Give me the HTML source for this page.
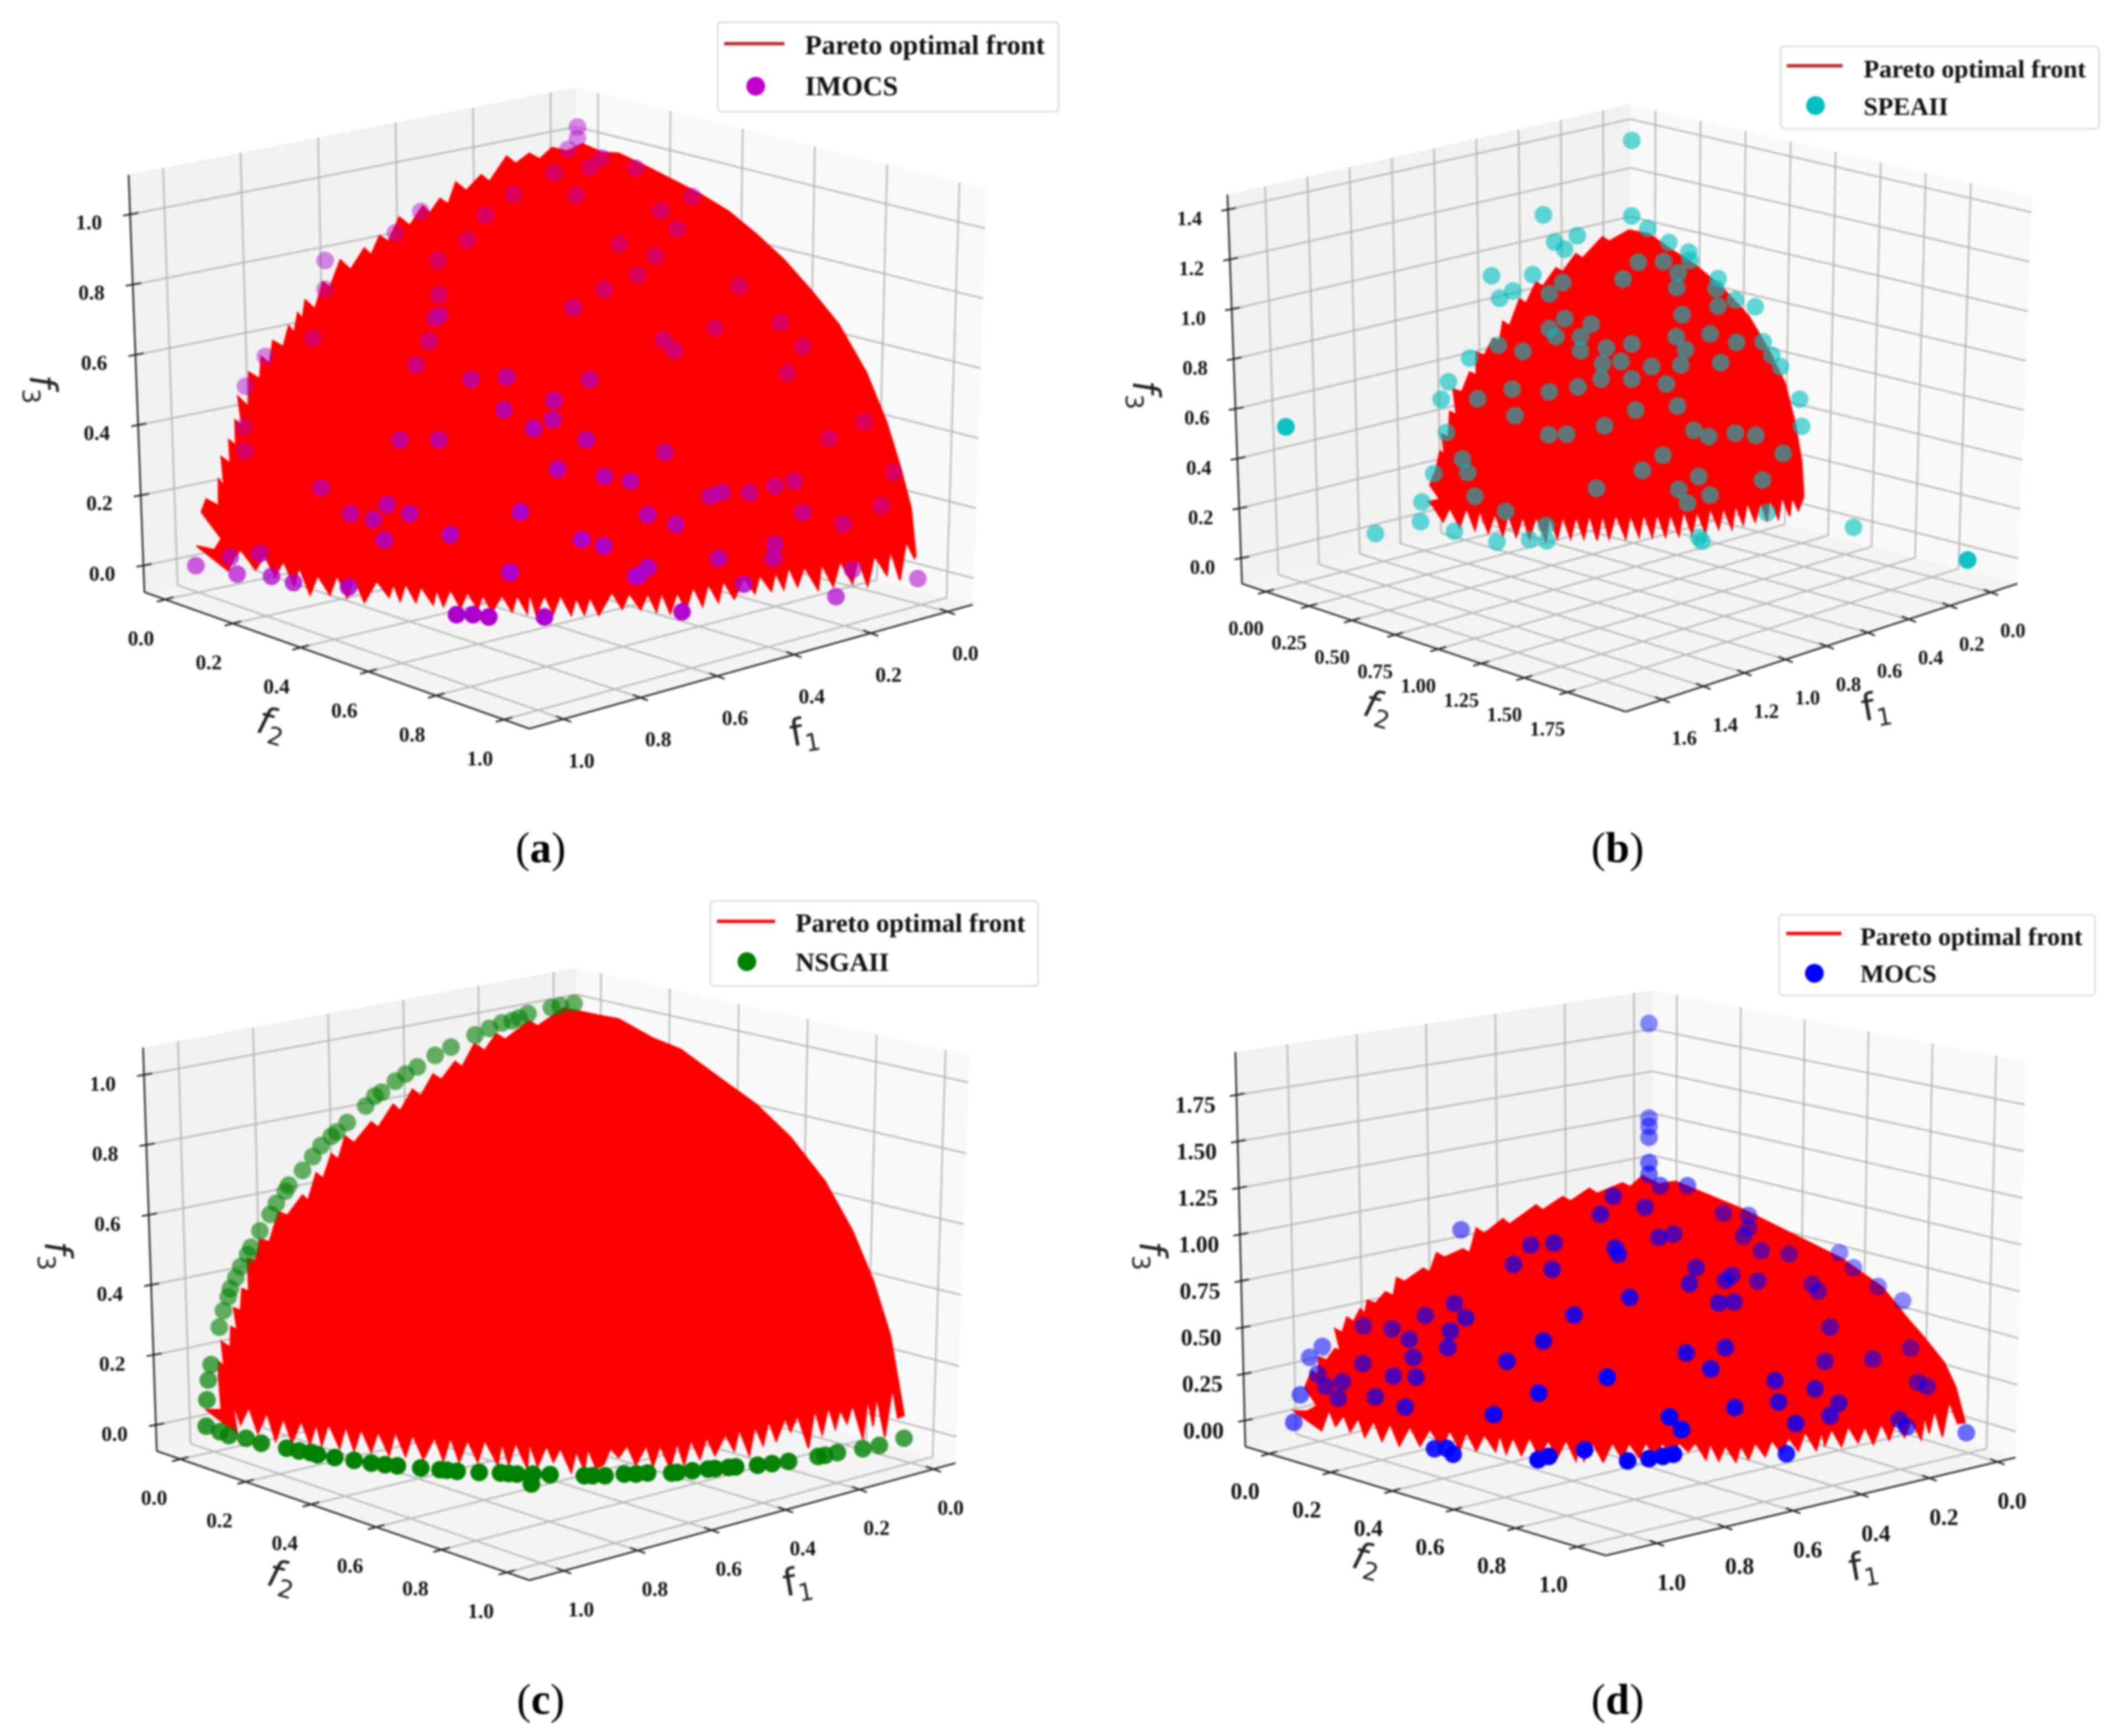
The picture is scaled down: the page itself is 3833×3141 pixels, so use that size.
<!DOCTYPE html>
<html lang="en">
<head>
<meta charset="utf-8">
<title>Pareto optimal front comparison</title>
<style>
html,body{margin:0;padding:0;background:#fff;}
svg{display:block;filter:blur(1.8px);}
.leg{font-family:"Liberation Serif",serif;font-weight:bold;fill:#111;}
.cap{font-family:"Liberation Serif",serif;font-size:78px;fill:#000;}
</style>
</head>
<body>
<svg id="figure" xmlns="http://www.w3.org/2000/svg" width="3833" height="3141" viewBox="0 0 3833 3141">
<rect width="3833" height="3141" fill="#fff"/>
<g id="plots"></g>

<g>
<rect x="1298" y="40" width="617" height="162" rx="8" fill="#fff" fill-opacity=".85" stroke="#dcdcdc" stroke-width="3"/>
<line x1="1310" x2="1419" y1="79" y2="79" stroke="#c02428" stroke-width="6"/>
<text class="leg" x="1456" y="98" font-size="49.7">Pareto optimal front</text>
<circle cx="1367" cy="156" r="17" fill="#bf00c8"/>
<text class="leg" x="1456" y="172" font-size="49.7">IMOCS</text>
</g>
<g>
<rect x="3221" y="84" width="576" height="149" rx="8" fill="#fff" fill-opacity=".85" stroke="#dcdcdc" stroke-width="3"/>
<line x1="3232" x2="3333" y1="119" y2="119" stroke="#c02428" stroke-width="6"/>
<text class="leg" x="3371" y="140" font-size="46">Pareto optimal front</text>
<circle cx="3284" cy="191" r="17" fill="#00bfbf"/>
<text class="leg" x="3371" y="208" font-size="46">SPEAII</text>
</g>
<g>
<rect x="1285" y="1630" width="593" height="154" rx="8" fill="#fff" fill-opacity=".85" stroke="#dcdcdc" stroke-width="3"/>
<line x1="1297" x2="1402" y1="1667" y2="1667" stroke="#ff0000" stroke-width="6"/>
<text class="leg" x="1439" y="1686" font-size="47.6">Pareto optimal front</text>
<circle cx="1351" cy="1740" r="17" fill="#008000"/>
<text class="leg" x="1439" y="1757" font-size="47.6">NSGAII</text>
</g>
<g>
<rect x="3218" y="1655" width="572" height="146" rx="8" fill="#fff" fill-opacity=".85" stroke="#dcdcdc" stroke-width="3"/>
<line x1="3231" x2="3331" y1="1689" y2="1689" stroke="#ff0000" stroke-width="6"/>
<text class="leg" x="3365" y="1710" font-size="46">Pareto optimal front</text>
<circle cx="3282" cy="1761" r="17" fill="#0000ff"/>
<text class="leg" x="3365" y="1777" font-size="46">MOCS</text>
</g>

<text class="cap" x="978" y="1560" text-anchor="middle">(<tspan font-weight="bold">a</tspan>)</text>
<text class="cap" x="2926" y="1560" text-anchor="middle">(<tspan font-weight="bold">b</tspan>)</text>
<text class="cap" x="978" y="3101" text-anchor="middle">(<tspan font-weight="bold">c</tspan>)</text>
<text class="cap" x="2926" y="3101" text-anchor="middle">(<tspan font-weight="bold">d</tspan>)</text>
</svg>

<script>
const ticksUnit = ['0.0','0.2','0.4','0.6','0.8','1.0'];
const ticksBF1 = ['0.0','0.2','0.4','0.6','0.8','1.0','1.2','1.4','1.6'];
const ticksBF2 = ['0.00','0.25','0.50','0.75','1.00','1.25','1.50','1.75'];
const ticksBF3 = ['0.0','0.2','0.4','0.6','0.8','1.0','1.2','1.4'];
const ticksDF3 = ['0.00','0.25','0.50','0.75','1.00','1.25','1.50','1.75'];

// Scatter series as [view-horizontal, view-height] readings
const imocsView = [[840,225],[840,245],[826,265],[875,280],[925,298],[1007,348],[806,307],[858,297],[838,346],[747,345],[612,375],[706,382],[575,413],[680,425],[473,462],[637,462],[473,513],[638,522],[640,558],[632,565],[624,605],[605,647],[455,600],[386,632],[357,685],[355,757],[356,800],[685,673],[737,669],[858,673],[806,710],[804,744],[776,760],[733,727],[582,780],[638,780],[853,780],[967,802],[811,832],[879,845],[917,853],[467,865],[563,895],[543,921],[510,911],[596,911],[559,958],[655,948],[757,908],[846,957],[878,968],[942,913],[983,930],[1033,880],[1050,873],[1090,874],[1127,862],[1155,853],[1168,909],[1226,929],[1282,897],[1300,838],[1257,748],[1206,777],[1145,661],[1168,614],[1135,572],[1075,507],[1040,582],[965,603],[981,622],[879,513],[928,488],[953,454],[901,433],[961,374],[985,406],[834,546],[378,982],[335,988],[285,1003],[345,1018],[395,1022],[427,1033],[507,1041],[742,1015],[930,1020],[942,1006],[925,1022],[1045,990],[1127,965],[1125,990],[1240,1010],[1082,1036],[1216,1058],[1335,1026],[664,1090],[688,1090],[711,1094],[792,1094],[992,1085]];
const speaView = [[834,249],[834,383],[858,405],[890,430],[920,447],[922,462],[701,381],[718,429],[733,442],[752,418],[685,487],[623,489],[635,529],[655,516],[710,521],[730,501],[821,495],[844,465],[882,464],[904,484],[902,510],[964,494],[961,512],[964,543],[990,532],[1020,544],[910,558],[733,565],[710,583],[720,597],[773,575],[757,597],[757,622],[670,623],[633,612],[590,635],[796,617],[834,610],[901,597],[952,592],[992,607],[915,620],[1032,606],[1045,630],[1058,650],[818,641],[790,645],[788,672],[864,650],[908,647],[968,643],[834,672],[886,681],[558,677],[547,708],[602,707],[654,690],[710,695],[753,686],[1087,708],[1090,756],[658,737],[840,727],[903,720],[555,767],[709,771],[736,770],[793,755],[928,763],[950,774],[990,768],[1021,772],[1062,804],[579,814],[587,838],[536,840],[850,834],[881,807],[935,845],[1031,851],[598,880],[781,866],[905,868],[918,892],[952,878],[518,890],[516,925],[644,907],[705,932],[1038,909],[1168,935],[448,946],[567,942],[631,961],[680,957],[706,959],[935,953],[940,960],[1340,993],[1340,993],[1340,993],[313,757],[313,757],[313,757]];
const nsgaView = [[835,237],[815,241],[802,244],[768,255],[755,263],[745,268],[730,272],[712,282],[691,294],[656,316],[633,331],[607,352],[590,365],[575,378],[555,398],[545,405],[532,423],[505,453],[490,470],[482,478],[467,495],[455,515],[440,540],[420,567],[415,578],[402,600],[393,620],[378,650],[365,680],[360,693],[350,715],[343,735],[335,755],[332,770],[325,795],[319,825],[307,893],[303,921],[301,957],[300,1005],[320,1015],[333,1022],[358,1027],[380,1036],[417,1045],[435,1050],[452,1053],[462,1057],[487,1062],[515,1067],[540,1072],[560,1075],[578,1077],[612,1081],[640,1084],[650,1085],[665,1087],[697,1089],[728,1090],[740,1091],[752,1092],[775,1092],[773,1110],[800,1093],[850,1095],[862,1095],[880,1095],[908,1092],[925,1092],[942,1090],[977,1090],[985,1089],[1007,1086],[1030,1083],[1040,1082],[1060,1080],[1070,1079],[1102,1076],[1123,1073],[1147,1069],[1190,1060],[1200,1058],[1218,1053],[1255,1046],[1279,1040],[1315,1027]];
const mocsView = [[860,273],[860,445],[860,460],[860,480],[860,526],[860,547],[877,568],[918,568],[577,648],[806,587],[787,620],[854,607],[972,618],[1010,622],[1010,645],[1002,660],[875,662],[897,656],[682,676],[717,672],[809,681],[814,693],[656,711],[714,720],[931,717],[1029,686],[1071,692],[1147,690],[1168,717],[1205,751],[1242,777],[1106,747],[1115,760],[985,731],[975,740],[921,746],[1024,741],[831,771],[965,781],[988,779],[747,803],[567,782],[584,808],[523,804],[430,823],[473,828],[499,847],[561,832],[557,862],[701,850],[1133,825],[1254,863],[975,862],[916,872],[646,887],[505,880],[429,891],[368,860],[349,880],[361,910],[398,924],[373,932],[335,948],[392,954],[448,952],[475,914],[509,916],[953,901],[797,916],[1125,887],[1197,883],[1050,922],[1110,937],[1265,925],[1279,933],[694,945],[493,970],[325,998],[626,984],[891,988],[989,971],[1055,961],[1146,963],[1133,986],[1081,1000],[909,1011],[1237,993],[1248,1006],[1338,1017],[537,1046],[555,1045],[565,1056],[693,1066],[709,1060],[763,1048],[828,1068],[860,1064],[881,1060],[897,1056],[1067,1055]];

// Pareto front silhouettes, same view readings
const frontA = [[293,908],[300,885],[318,897],[318,850],[326,862],[322,810],[335,822],[333,780],[343,790],[342,745],[352,755],[346,703],[362,722],[362,660],[378,672],[380,632],[392,645],[397,604],[412,615],[420,578],[428,590],[433,555],[440,565],[444,532],[458,548],[470,500],[480,510],[495,461],[510,478],[530,440],[540,452],[552,418],[565,428],[581,385],[596,400],[615,365],[625,378],[640,352],[652,362],[663,323],[678,338],[700,310],[712,322],[737,277],[750,290],[770,272],[785,282],[803,262],[825,268],[847,255],[875,270],[900,272],[940,295],[980,320],[1020,345],[1060,375],[1100,415],[1140,460],[1180,515],[1220,575],[1260,660],[1290,750],[1310,830],[1325,900],[1332,985],
 [1330,990],[1318,960],[1309,1029],[1295,975],[1290,1020],[1272,985],[1262,1039],[1248,990],[1240,1035],[1222,995],[1212,1040],[1195,1000],[1190,1046],[1170,1005],[1160,1040],[1147,1005],[1140,1045],[1128,1015],[1122,1048],[1105,1020],[1098,1052],[1082,1025],[1068,1062],[1052,1030],[1045,1068],[1030,1035],[1022,1075],[1008,1040],[998,1082],[985,1050],[975,1088],[962,1050],[955,1085],[942,1052],[932,1081],[915,1052],[905,1080],[890,1050],[871,1091],[858,1058],[850,1090],[838,1060],[831,1091],[815,1055],[805,1088],[792,1055],[780,1090],[770,1050],[767,1088],[752,1055],[745,1085],[730,1055],[716,1085],[702,1055],[695,1080],[680,1050],[670,1078],[655,1045],[645,1075],[635,1045],[630,1072],[612,1040],[605,1068],[590,1035],[582,1066],[572,1035],[566,1059],[548,1030],[530,1068],[515,1025],[505,1060],[490,1020],[480,1055],[462,1020],[451,1055],[435,1005],[428,1038],[412,995],[400,1023],[385,985],[372,1010],[350,975],[340,990],[332,1012],[286,968],[312,975],[322,955]];
const frontB = [[530,860],[540,830],[545,800],[552,805],[548,770],[558,775],[560,730],[570,735],[565,690],[578,695],[590,660],[600,665],[600,625],[612,630],[625,600],[635,605],[640,570],[650,578],[665,530],[675,538],[690,500],[700,508],[720,475],[730,482],[750,450],[760,458],[790,420],[800,428],[830,408],[860,415],[890,440],[930,470],[970,510],[1010,560],[1040,620],[1065,680],[1080,750],[1090,820],[1093,880],
 [1085,905],[1075,880],[1072,915],[1060,880],[1055,920],[1042,885],[1038,925],[1028,890],[1020,925],[1008,890],[1002,930],[990,895],[985,938],[972,900],[965,938],[952,900],[945,945],[932,905],[925,948],[912,905],[905,950],[892,910],[885,952],[872,910],[865,952],[852,910],[845,952],[832,912],[825,955],[810,912],[800,955],[790,912],[782,958],[770,912],[762,955],[750,915],[742,955],[730,915],[722,955],[710,915],[705,960],[690,915],[680,955],[670,915],[660,952],[648,912],[640,950],[628,910],[618,945],[605,905],[598,940],[585,900],[575,935],[560,900],[550,925],[535,898],[528,890],[545,885]];
const frontC = [[318,914],[318,888],[326,895],[322,851],[335,862],[336,824],[345,830],[340,790],[350,795],[352,755],[362,760],[360,700],[372,705],[378,665],[392,670],[405,615],[418,622],[440,585],[448,595],[460,545],[470,555],[482,510],[492,520],[502,478],[515,490],[540,452],[550,462],[572,420],[582,432],[600,393],[612,405],[630,365],[642,375],[662,342],[672,352],[690,310],[705,322],[722,292],[735,302],[770,268],[782,278],[820,245],[870,258],[900,265],[950,300],[990,320],[1050,375],[1100,420],[1150,480],[1200,560],[1240,650],[1270,740],[1295,840],[1315,985],
 [1306,990],[1298,935],[1287,1025],[1275,950],[1270,1005],[1262,955],[1255,1028],[1240,965],[1232,1000],[1222,975],[1215,1010],[1205,970],[1196,1020],[1185,975],[1176,1045],[1160,985],[1150,1015],[1142,990],[1129,1032],[1118,995],[1110,1040],[1098,1005],[1090,1058],[1075,1010],[1068,1050],[1055,1020],[1040,1058],[1028,1025],[1018,1065],[1005,1030],[995,1075],[985,1035],[975,1082],[960,1040],[950,1078],[940,1040],[925,1075],[912,1040],[900,1062],[888,1045],[878,1075],[867,1082],[855,1045],[850,1085],[838,1050],[831,1089],[815,1045],[805,1070],[795,1040],[782,1078],[770,1035],[767,1082],[750,1035],[740,1075],[730,1035],[724,1075],[705,1030],[695,1070],[680,1030],[668,1070],[655,1025],[645,1068],[632,1025],[616,1065],[600,1020],[590,1060],[575,1015],[566,1058],[550,1015],[540,1052],[525,1010],[515,1050],[503,1005],[494,1045],[478,1000],[468,1040],[460,1000],[451,1038],[438,995],[425,1035],[412,990],[401,1032],[388,980],[375,1018],[362,970],[350,1002],[338,960],[345,1018],[300,975],[322,975]];
const frontD = [[342,934],[352,905],[362,912],[363,880],[375,885],[387,864],[395,868],[387,828],[398,835],[405,807],[415,815],[425,792],[432,800],[436,776],[448,782],[463,761],[475,768],[480,735],[492,742],[520,718],[530,725],[540,690],[552,698],[580,683],[590,690],[600,645],[612,655],[640,628],[650,638],[690,603],[700,612],[730,588],[742,596],[770,573],[782,582],[820,563],[832,570],[850,550],[875,565],[900,560],[950,585],[1000,610],[1050,640],[1100,670],[1150,700],[1212,753],[1250,810],[1274,843],[1305,890],[1322,934],[1336,998],
 [1325,1000],[1312,960],[1302,1024],[1290,975],[1282,1018],[1275,985],[1270,1029],[1255,995],[1245,1025],[1232,995],[1222,1030],[1210,1000],[1198,1038],[1185,1005],[1175,1035],[1160,1005],[1150,1042],[1135,1010],[1125,1040],[1120,1015],[1112,1049],[1095,1015],[1085,1050],[1070,1025],[1060,1055],[1045,1030],[1035,1060],[1020,1035],[1010,1065],[998,1040],[991,1070],[975,1040],[965,1068],[952,1035],[946,1066],[930,1035],[919,1051],[905,1035],[895,1060],[880,1035],[870,1062],[855,1035],[845,1062],[830,1035],[820,1065],[805,1035],[791,1070],[775,1035],[762,1068],[755,1035],[750,1068],[735,1030],[722,1062],[708,1030],[695,1062],[680,1025],[668,1058],[655,1025],[645,1055],[635,1020],[629,1051],[612,1020],[600,1050],[585,1015],[575,1048],[560,1012],[548,1045],[530,1010],[515,1041],[500,1005],[484,1041],[470,1000],[458,1032],[445,995],[432,1025],[422,990],[410,1015],[400,985],[388,1005],[378,975],[367,1013],[325,977],[345,978],[360,968]];

const panels = [
 {id:'a',ox:0,oy:0,kx:1.2436,ky:1.0204,A:[210,1050],B:[770,1292],C:[1415,1072],D:[838,890],At:[187,310],Dt:[838,155],Ct:[1435,335],
  r1:[-.066,1.089],r2:[-.061,1.075],r3:[-.0755,1.113],t1:ticksUnit,t2:ticksUnit,t3:ticksUnit,
  o1:[26,74],o2:[-35,69],o3:[-60,14],font:38,points:imocsView,front:frontA,color:'#ad00cc',a0:.1,a1:.001,aMin:.45,
  l1:[1170,1300,-10],l2:[395,1285,15],l3:[60,690,88]},
 {id:'b',ox:1950,oy:0,kx:1.2009,ky:1.0204,A:[247,1035],B:[825,1262],C:[1415,1035],D:[832,860],At:[225,345],Dt:[832,185],Ct:[1437,350],
  r1:[-.129,1.778],r2:[-.139,2.089],r3:[-.1019,1.4606],t1:ticksBF1,t2:ticksBF2,t3:ticksBF3,
  o1:[33,68],o2:[-30,65],o3:[-58,16],font:36.5,points:speaView,front:frontB,color:'#00bfbf',a0:.62,a1:0,aMin:.6,
  l1:[1202,1255,-10],l2:[452,1255,15],l3:[100,700,88]},
 {id:'c',ox:0,oy:1580,kx:1.2436,ky:.9955,A:[228,1050],B:[770,1285],C:[1390,1072],D:[838,885],At:[208,317],Dt:[838,172],Ct:[1410,330],
  r1:[-.06,1.093],r2:[-.072,1.069],r3:[-.074,1.078],t1:ticksUnit,t2:ticksUnit,t3:ticksUnit,
  o1:[25,70],o2:[-38,70],o3:[-60,16],font:38,points:nsgaView,front:frontC,color:'#008000',a0:.25,a1:.001,aMin:.6,
  l1:[1160,1290,-10],l2:[410,1280,15],l3:[82,695,88]},
 {id:'d',ox:1950,oy:1580,kx:1.2009,ky:.9955,A:[252,1042],B:[795,1240],C:[1412,1062],D:[865,860],At:[237,325],Dt:[865,213],Ct:[1428,342],
  r1:[-.0527,1.15],r2:[-.077,1.093],r3:[-.139,1.981],t1:ticksUnit,t2:ticksUnit,t3:ticksDF3,
  o1:[22,71],o2:[-36,68],o3:[-62,18],font:42,points:mocsView,front:frontD,color:'#0000ff',a0:.1,a1:.001,aMin:.45,
  l1:[1183,1262,-10],l2:[435,1248,15],l3:[110,695,88]}
];

const NS = 'http://www.w3.org/2000/svg';
function mk(tag, attrs, parent){
  const e = document.createElementNS(NS, tag);
  for (const k in attrs) e.setAttribute(k, attrs[k]);
  parent.appendChild(e);
  return e;
}
function lerp(p, q, t){ return [p[0]+(q[0]-p[0])*t, p[1]+(q[1]-p[1])*t]; }
function axisScale(range){ return function(v){ return (v-range[0])/(range[1]-range[0]); }; }

const root = document.getElementById('plots');

panels.forEach(function(p){
  const sx = function(h){ return p.ox + p.kx*h; };
  const sy = function(v){ return p.oy + p.ky*v; };
  const S = function(pt){ return [sx(pt[0]), sy(pt[1])]; };
  const s1 = axisScale(p.r1), s2 = axisScale(p.r2), s3 = axisScale(p.r3);
  const floor = function(u,w){ return lerp(lerp(p.D,p.A,u), lerp(p.C,p.B,u), w); };
  const leftWall = function(u,z){ return lerp(floor(u,0), lerp(p.Dt,p.At,u), z); };
  const rightWall = function(w,z){ return lerp(floor(0,w), lerp(p.Dt,p.Ct,w), z); };

  const g = mk('g', {}, root);
  
  

  const poly = function(pts){ return pts.map(function(q){ const s = S(q); return s[0].toFixed(1)+','+s[1].toFixed(1); }).join(' '); };

  const paneLeft = mk('polygon', {points:poly([p.A,p.At,p.Dt,p.D]), fill:'#f1f1f1'}, g);
  
  
  const paneRight = mk('polygon', {points:poly([p.D,p.Dt,p.Ct,p.C]), fill:'#f9f9f9'}, g);
  
  
  const paneFloor = mk('polygon', {points:poly([p.A,p.D,p.C,p.B]), fill:'#f4f4f4'}, g);
  
  

  const seg = function(a,b,color,w,parent){
    const s = S(a), t = S(b);
    return mk('line', {x1:s[0].toFixed(1),y1:s[1].toFixed(1),x2:t[0].toFixed(1),y2:t[1].toFixed(1),stroke:color,'stroke-width':w}, parent);
  };

  const grid = mk('g', {}, g);
  
  
  p.t1.forEach(function(lbl){
    const u = s1(Number(lbl));
    const a = seg(floor(u,0), lerp(p.Dt,p.At,u), '#b8b8b8', 3, grid);
    
    
    const b = seg(floor(u,0), floor(u,1), '#b8b8b8', 3, grid);
    
    
  });
  p.t2.forEach(function(lbl){
    const w = s2(Number(lbl));
    const a = seg(floor(0,w), lerp(p.Dt,p.Ct,w), '#b8b8b8', 3, grid);
    
    
    const b = seg(floor(0,w), floor(1,w), '#b8b8b8', 3, grid);
    
    
  });
  p.t3.forEach(function(lbl){
    const z = s3(Number(lbl));
    const a = seg(leftWall(1,z), leftWall(0,z), '#b8b8b8', 3, grid);
    
    
    const b = seg(rightWall(0,z), rightWall(1,z), '#b8b8b8', 3, grid);
    
    
  });

  const axF1 = seg(p.C, p.B, '#222', 3, g);
  
  
  const axF2 = seg(p.A, p.B, '#222', 3, g);
  
  
  const axF3 = seg(p.A, p.At, '#222', 3, g);
  
  

  const tickText = function(str, at, off){
    const s = S([at[0]+off[0], at[1]+off[1]]);
    const t = mk('text', {x:s[0].toFixed(1), y:(s[1]+p.font*.33).toFixed(1), 'text-anchor':'middle', 'font-size':p.font, 'font-weight':'bold', 'font-family':'"Liberation Serif",serif', fill:'#111'}, g);
    t.textContent = str;
    return t;
  };

  p.t1.forEach(function(lbl){
    const at = floor(s1(Number(lbl)),1);
    const m = seg([at[0]-11,at[1]-5],[at[0]+11,at[1]+5],'#222',3,g);
    
    
    const t = tickText(lbl, at, p.o1);
    
    
  });
  p.t2.forEach(function(lbl){
    const at = floor(1,s2(Number(lbl)));
    const m = seg([at[0]-12,at[1]+4],[at[0]+12,at[1]-4],'#222',3,g);
    
    
    const t = tickText(lbl, at, p.o2);
    
    
  });
  p.t3.forEach(function(lbl){
    const base = lerp(p.A,p.At,s3(Number(lbl)));
    const m = seg([base[0]-10,base[1]+2],[base[0]+12,base[1]-3],'#222',3,g);
    
    
    const t = tickText(lbl, base, p.o3);
    
    
  });

  const axisLabel = function(sub, spec, italic){
    const s = S(spec);
    const t = mk('text', {transform:'translate('+s[0].toFixed(1)+','+s[1].toFixed(1)+') rotate('+spec[2]+')', 'text-anchor':'middle', 'font-size':68, 'font-family':'"DejaVu Sans",sans-serif', 'font-style':italic?'italic':'normal', fill:'#222', y:20}, g);
    const a = mk('tspan', {}, t);
    a.textContent = 'f';
    const b = mk('tspan', {dy:14, 'font-size':44, 'font-style':'normal'}, t);
    b.textContent = sub;
    return t;
  };
  const labelF1 = axisLabel('1', p.l1, false);
  
  
  const labelF2 = axisLabel('2', p.l2, true);
  
  
  const labelF3 = axisLabel('3', p.l3, true);
  
  

  const front = mk('polygon', {points:poly(p.front), fill:'#ff0000', stroke:'#ff0000', 'stroke-width':3, 'stroke-linejoin':'miter'}, g);
  
  

  const hB = p.B[0];
  p.points.forEach(function(pt){
    const depth = p.a0 + p.a1*(pt[1] - Math.abs(pt[0]-hB));
    const alpha = Math.max(p.aMin, Math.min(1, depth));
    const c = mk('circle', {cx:sx(pt[0]).toFixed(1), cy:sy(pt[1]).toFixed(1), r:16, fill:p.color, 'fill-opacity':alpha.toFixed(2)}, g);
    
    
  });
});
</script>
</body>
</html>
